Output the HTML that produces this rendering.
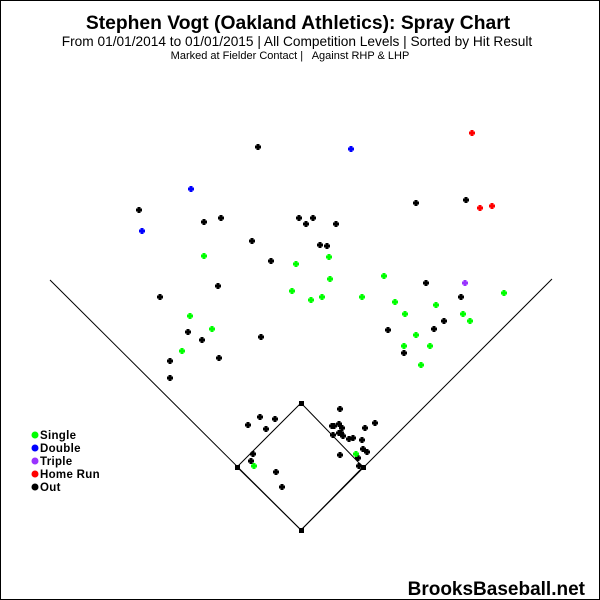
<!DOCTYPE html>
<html><head><meta charset="utf-8"><style>
html,body{margin:0;padding:0;background:#fff}
svg{display:block}
</style></head><body>
<svg width="600" height="600" viewBox="0 0 600 600" xmlns="http://www.w3.org/2000/svg">
<rect x="0.5" y="0.5" width="599" height="599" fill="#fff" stroke="#000" stroke-width="1"/>
<g font-family="Liberation Sans, sans-serif" text-anchor="middle" fill="#000">
<text x="298" y="29" font-size="19.3" font-weight="bold">Stephen Vogt (Oakland Athletics): Spray Chart</text>
<text x="297" y="46" font-size="13.7">From 01/01/2014 to 01/01/2015 | All Competition Levels | Sorted by Hit Result</text>
<text x="290" y="59" font-size="11" style="white-space:pre">Marked at Fielder Contact |   Against RHP &amp; LHP</text>
</g>
<g stroke="#000" stroke-width="1" fill="none">
<polyline points="50,280 301,530 552,279"/>
<polygon points="301,530 363,467 301,403 237,467"/>
</g>
<g fill="#000">
<rect x="299" y="528" width="5" height="5"/><rect x="361" y="465" width="5" height="5"/><rect x="299" y="401" width="5" height="5"/><rect x="235" y="465" width="5" height="5"/>
</g>
<defs><path id="m" d="M-1.5,-3h3v1.5h1.5v3h-1.5v1.5h-3v-1.5h-1.5v-3h1.5z"/></defs>
<g fill="#000">
<use href="#m" x="258" y="147"/><use href="#m" x="139" y="210"/><use href="#m" x="204" y="222"/><use href="#m" x="221" y="218"/><use href="#m" x="299" y="218"/><use href="#m" x="306" y="224"/><use href="#m" x="313" y="218"/><use href="#m" x="336" y="224"/><use href="#m" x="252" y="241"/><use href="#m" x="320" y="245"/><use href="#m" x="327" y="246"/><use href="#m" x="271" y="261"/><use href="#m" x="416" y="203"/><use href="#m" x="466" y="200"/><use href="#m" x="160" y="297"/><use href="#m" x="218" y="286"/><use href="#m" x="426" y="283"/><use href="#m" x="461" y="297"/><use href="#m" x="188" y="332"/><use href="#m" x="202" y="340"/><use href="#m" x="261" y="337"/><use href="#m" x="219" y="358"/><use href="#m" x="170" y="361"/><use href="#m" x="170" y="378"/><use href="#m" x="388" y="330"/><use href="#m" x="434" y="329"/><use href="#m" x="444" y="321"/><use href="#m" x="404" y="353"/>
<use href="#m" x="248" y="425"/><use href="#m" x="260" y="417"/><use href="#m" x="266" y="429"/><use href="#m" x="275" y="419"/><use href="#m" x="253" y="454"/><use href="#m" x="251" y="461"/><use href="#m" x="276" y="472"/><use href="#m" x="282" y="487"/><use href="#m" x="340" y="409"/><use href="#m" x="332" y="426"/><use href="#m" x="334" y="426"/><use href="#m" x="339" y="424"/><use href="#m" x="342" y="428"/><use href="#m" x="333" y="435"/><use href="#m" x="339" y="433"/><use href="#m" x="341" y="433"/><use href="#m" x="343" y="436"/><use href="#m" x="349" y="439"/><use href="#m" x="353" y="438"/><use href="#m" x="365" y="428"/><use href="#m" x="375" y="423"/><use href="#m" x="362" y="440"/><use href="#m" x="363" y="449"/><use href="#m" x="367" y="452"/><use href="#m" x="340" y="455"/><use href="#m" x="358" y="458"/><use href="#m" x="359" y="466"/>
</g>
<g fill="#00ff00">
<use href="#m" x="204" y="256"/><use href="#m" x="296" y="264"/><use href="#m" x="329" y="257"/><use href="#m" x="330" y="279"/><use href="#m" x="292" y="291"/><use href="#m" x="311" y="300"/><use href="#m" x="322" y="297"/><use href="#m" x="362" y="297"/><use href="#m" x="384" y="276"/><use href="#m" x="395" y="302"/><use href="#m" x="405" y="314"/><use href="#m" x="436" y="305"/><use href="#m" x="463" y="314"/><use href="#m" x="470" y="321"/><use href="#m" x="504" y="293"/><use href="#m" x="416" y="335"/><use href="#m" x="404" y="346"/><use href="#m" x="430" y="346"/><use href="#m" x="421" y="365"/><use href="#m" x="190" y="316"/><use href="#m" x="212" y="329"/><use href="#m" x="182" y="351"/><use href="#m" x="254" y="466"/><use href="#m" x="356" y="454"/>
</g>
<g fill="#0000ff"><use href="#m" x="191" y="189"/><use href="#m" x="142" y="231"/><use href="#m" x="351" y="149"/></g>
<g fill="#9933ff"><use href="#m" x="465" y="283"/></g>
<g fill="#ff0000"><use href="#m" x="472" y="133"/><use href="#m" x="480" y="208"/><use href="#m" x="492" y="206"/></g>
<g font-family="Liberation Sans, sans-serif" font-size="11.5" font-weight="bold" fill="#000" letter-spacing="0.3">
<circle cx="35" cy="435" r="3.5" fill="#00ff00"/><text x="40" y="439">Single</text>
<circle cx="35" cy="448" r="3.5" fill="#0000ff"/><text x="40" y="452">Double</text>
<circle cx="35" cy="461" r="3.5" fill="#9933ff"/><text x="40" y="465">Triple</text>
<circle cx="35" cy="474" r="3.5" fill="#ff0000"/><text x="40" y="478">Home Run</text>
<circle cx="35" cy="487" r="3.5" fill="#000"/><text x="40" y="491">Out</text>
</g>
<text x="585" y="595" text-anchor="end" font-family="Liberation Sans, sans-serif" font-size="19" font-weight="bold">BrooksBaseball.net</text>
</svg>
</body></html>
